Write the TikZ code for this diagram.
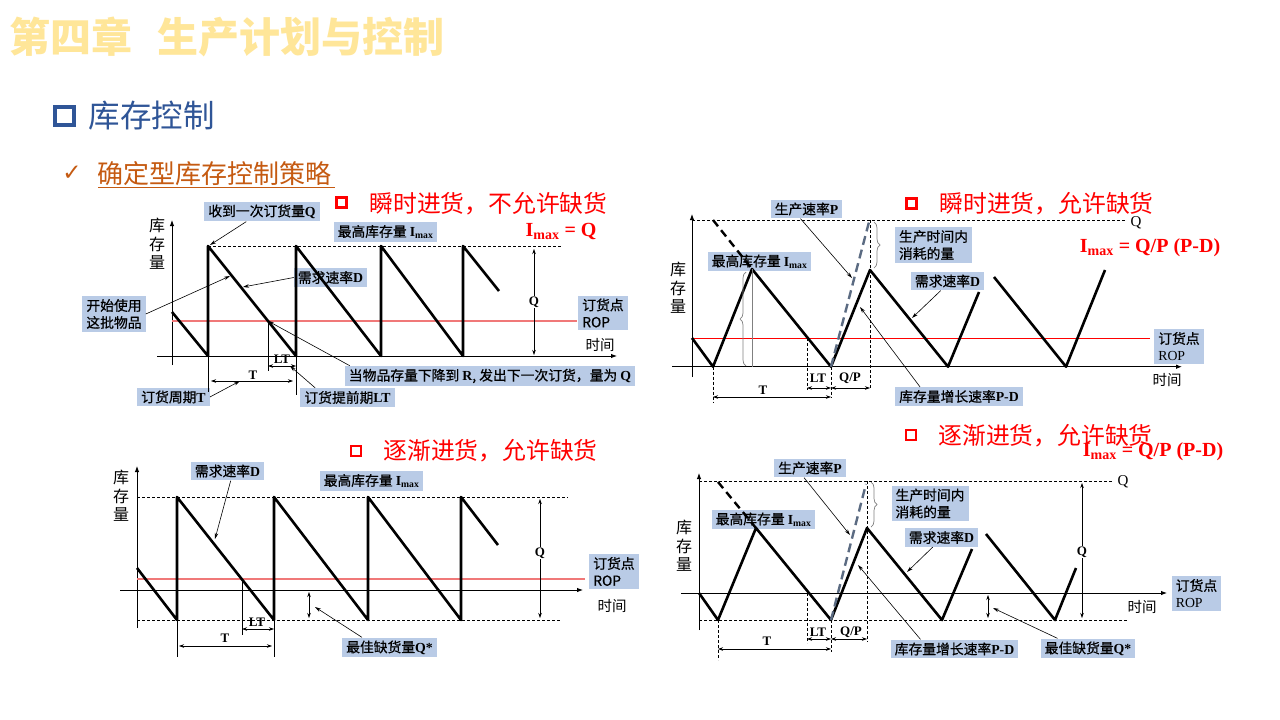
\documentclass[tikz,border=0pt]{standalone}
\usepackage{fontspec}
\setmainfont{Noto Sans CJK SC}
\newfontfamily\boxfont[FakeBold=0.6]{Noto Sans CJK SC}
\newfontfamily\latinfont{Liberation Serif}
\newfontfamily\checkfont{DejaVu Sans}
\usetikzlibrary{arrows.meta,decorations.pathreplacing}
\definecolor{boxblue}{HTML}{B9CBE6}
\definecolor{titleyellow}{HTML}{FFE699}
\definecolor{secblue}{HTML}{2F5597}
\definecolor{stratbrown}{HTML}{C55A11}
\definecolor{ropred}{HTML}{F07878}
\definecolor{prodgray}{HTML}{5B6B82}
\newcommand\serifb[1]{{\latinfont\bfseries #1}}

\begin{document}
\begin{tikzpicture}[x=1pt, y=-1pt,
  lbl/.style={fill=boxblue, inner xsep=4pt, inner ysep=3pt, align=left, font=\fontsize{13.8}{17}\selectfont\boxfont},
  saw/.style={line width=2.6pt, line join=round},
  axisln/.style={line width=0.9pt, -{Latex[length=6pt,width=4.5pt]}},
  ptr/.style={line width=0.6pt, -{Stealth[length=6pt,width=3.5pt]}},
  dimln/.style={line width=0.6pt, {Stealth[length=5pt,width=3.5pt]}-{Stealth[length=5pt,width=3.5pt]}},
  guide/.style={line width=0.6pt, dash pattern=on 3pt off 2pt},
  ropln/.style={ropred, line width=1.6pt},
  dimtxt/.style={inner sep=1pt, font=\fontsize{13}{15}\selectfont\latinfont\bfseries},
  axtxt/.style={font=\fontsize{14.5}{17}\selectfont},
  ytxt/.style={align=center, font=\fontsize{16}{18.5}\selectfont},
  redmark/.style={red, line width=2.6pt},
  rtitle/.style={anchor=west, text=red, font=\fontsize{23.8}{28}\selectfont},
  formula/.style={text=red, font=\fontsize{20}{24}\selectfont\latinfont\bfseries},
  brc/.style={gray, line width=0.7pt, decorate, decoration={brace, amplitude=6pt}},
  extln/.style={line width=2.4pt, dash pattern=on 8pt off 5pt},
  prodln/.style={prodgray, line width=2.4pt, dash pattern=on 9pt off 5pt},
  qtop/.style={font=\fontsize{15}{18}\selectfont\latinfont}]
\fill[white] (0,0) rectangle (1280,720);
\useasboundingbox (0,0) rectangle (1280,720);
\node[anchor=west, text=titleyellow, font=\fontsize{41}{46}\selectfont\bfseries] (chap) at (6,37) {第四章\hspace{0.6em}生产计划与控制};
\draw[secblue, line width=4pt] (55,107) rectangle (74,125);
\node[anchor=west, text=secblue, font=\fontsize{31.5}{36}\selectfont] (sec) at (85,116) {库存控制};
\node[text=stratbrown, font=\fontsize{23}{26}\selectfont\checkfont] (chk) at (72,173) {✓};
\node[anchor=west, text=stratbrown, font=\fontsize{26}{30}\selectfont] (strat) at (94,174) {确定型库存控制策略};
\draw[stratbrown, line width=0.9pt] (98,187) -- (335,187);

\draw[redmark] (336.5,197.5) rectangle (346.5,207.5);
\node[rtitle] (t1) at (366,204) {瞬时进货，不允许缺货};
\node[formula] (f1) at (561,231) {I\textsubscript{max} = Q};
\node[lbl] (n1q) at (262,211.5) {收到一次订货量\serifb{Q}};
\node[lbl] (n1imax) at (385.5,232) {最高库存量 \serifb{I\textsubscript{max}}};
\node[lbl] (n1d) at (330.5,277.5) {需求速率\serifb{D}};
\node[lbl] (n1use) at (114,314) {开始使用\\这批物品};
\node[lbl] (n1rop) at (603,313) {订货点\\ROP};
\node[lbl] (n1when) at (490,376) {当物品存量下降到 \serifb{R}, 发出下一次订货，量为 \serifb{Q}};
\node[lbl] (n1t) at (173.5,397) {订货周期\serifb{T}};
\node[lbl] (n1lt) at (347.5,397.5) {订货提前期\serifb{LT}};
\node[ytxt] (y1) at (157,244) {库\\存\\量};
\node[axtxt] (x1) at (600,345) {时间};
\draw[axisln] (157,356) -- (617,356);
\draw[axisln] (172,365) -- (172,220);
\draw[guide] (208,246) -- (562,246);
\draw[ropln] (172,321) -- (577,321);
\draw[saw] (172,312) -- (208,356) -- (208,246) -- (296,356) -- (296,246) -- (381,356) -- (381,246) -- (463,356) -- (463,246) -- (499,291);
\draw[line width=0.6pt] (208,356) -- (208,392);
\draw[line width=0.6pt] (296,356) -- (296,395);
\draw[line width=0.6pt] (268,321) -- (268,371);
\draw[dimln] (268,366) -- (296,366);
\draw[dimln] (211,381) -- (293,381);
\draw[dimln] (534,249) -- (534,355);
\node[dimtxt] (lt1) at (282,359) {LT};
\node[dimtxt] (tt1) at (253,375) {T};
\node[dimtxt, fill=white] (q1) at (534,302) {Q};
\coordinate (p1top) at (210,245);
\coordinate (p1d) at (243,287);
\coordinate (p1use) at (230,276);
\coordinate (p1rop) at (268,321);
\coordinate (p1t) at (240,381);
\coordinate (p1lt) at (290,366);
\draw[ptr] (n1q) -- (p1top);
\draw[ptr] (n1d.west) -- (p1d);
\draw[ptr] (n1use.east) -- (p1use);
\draw[ptr] ([xshift=5pt]n1when.north west) -- (p1rop);
\draw[ptr] (n1t.east) -- (p1t);
\draw[ptr] ([xshift=15pt]n1lt.north west) -- (p1lt);

\draw[redmark] (906.5,198.5) rectangle (916.5,208.5);
\node[rtitle] (t2) at (936,204) {瞬时进货，允许缺货};
\node[formula] (f2) at (1150,248) {I\textsubscript{max} = Q/P (P-D)};
\node[lbl] (n2p) at (806.5,209) {生产速率\serifb{P}};
\node[lbl] (n2imax) at (759.5,261.5) {最高库存量 \serifb{I\textsubscript{max}}};
\node[lbl] (n2cons) at (933.5,245) {生产时间内\\消耗的量};
\node[lbl] (n2d) at (947.5,281) {需求速率\serifb{D}};
\node[lbl] (n2pd) at (959,396.5) {库存量增长速率\serifb{P-D}};
\node[lbl] (n2rop) at (1179,346.5) {订货点\\{\latinfont ROP}};
\node[ytxt] (y2) at (678,288) {库\\存\\量};
\node[axtxt] (x2) at (1167,380) {时间};
\node[qtop] (q2top) at (1136,223) {Q};
\draw[axisln] (672,366.7) -- (1182,366.7);
\draw[axisln] (692,377) -- (692,214);
\draw[guide] (692,220) -- (1125,220);
\draw[red, line width=0.9pt] (692,338) -- (1150,338);
\draw[saw] (692,338) -- (713,366.7) -- (752,269) -- (831,366.7) -- (870,270) -- (948,366.7) -- (979,292);
\draw[saw] (994,277) -- (1066,366.7) -- (1105,270);
\draw[extln] (713,220) -- (752,269);
\draw[prodln] (831,366.7) -- (869,222);
\draw[guide] (870,220) -- (870,388);
\draw[guide] (807,338) -- (807,390);
\draw[guide] (831,366.7) -- (831,398);
\draw[guide] (713,366.7) -- (713,403);
\draw[gray, line width=0.8pt] (752,269) -- (752,366.7);
\draw[brc] (746,366) -- (746,272);
\draw[brc] (874,222) -- (874,268);
\draw[dimln] (807,388) -- (831,388);
\draw[dimln] (831,388) -- (870,388);
\draw[dimln] (713,397) -- (831,397);
\node[dimtxt] (lt2) at (818,378) {LT};
\node[dimtxt] (qp2) at (850,378) {Q/P};
\node[dimtxt] (tt2) at (763,390) {T};
\coordinate (p2p) at (852,278);
\coordinate (p2d) at (912,318);
\coordinate (p2pd) at (860,307);
\draw[ptr] ([xshift=30pt]n2p.south west) -- (p2p);
\draw[ptr] ([xshift=30pt]n2d.south west) -- (p2d);
\draw[ptr] ([xshift=25pt]n2pd.north west) -- (p2pd);

\draw[redmark] (351,446) rectangle (361,456);
\node[rtitle] (t3) at (380,451) {逐渐进货，允许缺货};
\node[lbl] (n3d) at (227.5,471) {需求速率\serifb{D}};
\node[lbl] (n3imax) at (371.5,481) {最高库存量 \serifb{I\textsubscript{max}}};
\node[lbl] (n3rop) at (614,571.5) {订货点\\ROP};
\node[lbl] (n3short) at (389.5,647.5) {最佳缺货量\serifb{Q*}};
\node[ytxt] (y3) at (121,496) {库\\存\\量};
\node[axtxt] (x3) at (612,606) {时间};
\draw[axisln] (120,590) -- (583,590);
\draw[axisln] (137,628) -- (137,466);
\draw[guide] (137,497) -- (568,497);
\draw[guide] (137,620) -- (560,620);
\draw[ropln] (137,579) -- (585,579);
\draw[saw] (137,568) -- (177,620) -- (177,497) -- (274,620) -- (274,497) -- (368,620) -- (368,497) -- (461,620) -- (461,497) -- (498,545);
\draw[line width=0.6pt] (177,620) -- (177,657);
\draw[line width=0.6pt] (274,620) -- (274,657);
\draw[line width=0.6pt] (242,579) -- (242,635);
\draw[dimln] (242,629) -- (274,629);
\draw[dimln] (179,646) -- (272,646);
\draw[dimln] (540,499) -- (540,618);
\draw[dimln] (309,592) -- (309,618);
\node[dimtxt] (lt3) at (257,622) {LT};
\node[dimtxt] (tt3) at (225,638) {T};
\node[dimtxt, fill=white] (q3) at (540,553) {Q};
\coordinate (p3d) at (215,539);
\coordinate (p3short) at (315,607);
\draw[ptr] ([xshift=40pt]n3d.south west) -- (p3d);
\draw[ptr] ([xshift=20pt]n3short.north west) -- (p3short);

\draw[redmark] (906,430) rectangle (916,440);
\node[rtitle] (t4) at (935,436) {逐渐进货，允许缺货};
\node[formula] (f4) at (1153,452) {I\textsubscript{max} = Q/P (P-D)};
\node[lbl] (n4p) at (810,468) {生产速率\serifb{P}};
\node[lbl] (n4cons) at (930,503.5) {生产时间内\\消耗的量};
\node[lbl] (n4imax) at (763.5,519.5) {最高库存量 \serifb{I\textsubscript{max}}};
\node[lbl] (n4d) at (941.5,537.5) {需求速率\serifb{D}};
\node[lbl] (n4pd) at (954.5,649) {库存量增长速率\serifb{P-D}};
\node[lbl] (n4short) at (1088,648.5) {最佳缺货量\serifb{Q*}};
\node[lbl] (n4rop) at (1196.5,593.5) {订货点\\{\latinfont ROP}};
\node[ytxt] (y4) at (684,546) {库\\存\\量};
\node[axtxt] (x4) at (1142,607) {时间};
\node[qtop] (q4top) at (1123,482) {Q};
\draw[axisln] (681,593) -- (1167,593);
\draw[axisln] (699,630) -- (699,473);
\draw[guide] (699,481) -- (1113,481);
\draw[guide] (699,620) -- (1127,620);
\draw[saw] (699,593) -- (718,620) -- (756,528) -- (831,620) -- (867,528) -- (942,620) -- (972,549);
\draw[saw] (986,534) -- (1055,620) -- (1076,568);
\draw[extln] (718,482) -- (756,528);
\draw[prodln] (831,620) -- (866,484);
\draw[guide] (867,481) -- (867,642);
\draw[guide] (807,593) -- (807,643);
\draw[guide] (831,620) -- (831,652);
\draw[guide] (718,620) -- (718,660);
\draw[brc] (871,482) -- (871,527);
\draw[dimln] (807,639) -- (831,639);
\draw[dimln] (831,639) -- (867,639);
\draw[dimln] (718,649) -- (831,649);
\draw[dimln] (1082,483) -- (1082,618);
\draw[dimln] (988,595) -- (988,618);
\node[dimtxt] (lt4) at (818,632) {LT};
\node[dimtxt] (qp4) at (851,632) {Q/P};
\node[dimtxt] (tt4) at (767,641) {T};
\node[dimtxt, fill=white] (q4) at (1082,552) {Q};
\coordinate (p4p) at (850,535);
\coordinate (p4d) at (907,572);
\coordinate (p4pd) at (858,565);
\coordinate (p4short) at (993,608);
\draw[ptr] ([xshift=30pt]n4p.south west) -- (p4p);
\draw[ptr] ([xshift=28pt]n4d.south west) -- (p4d);
\draw[ptr] ([xshift=30pt]n4pd.north west) -- (p4pd);
\draw[ptr] ([xshift=17pt]n4short.north west) -- (p4short);
\end{tikzpicture}
\end{document}
